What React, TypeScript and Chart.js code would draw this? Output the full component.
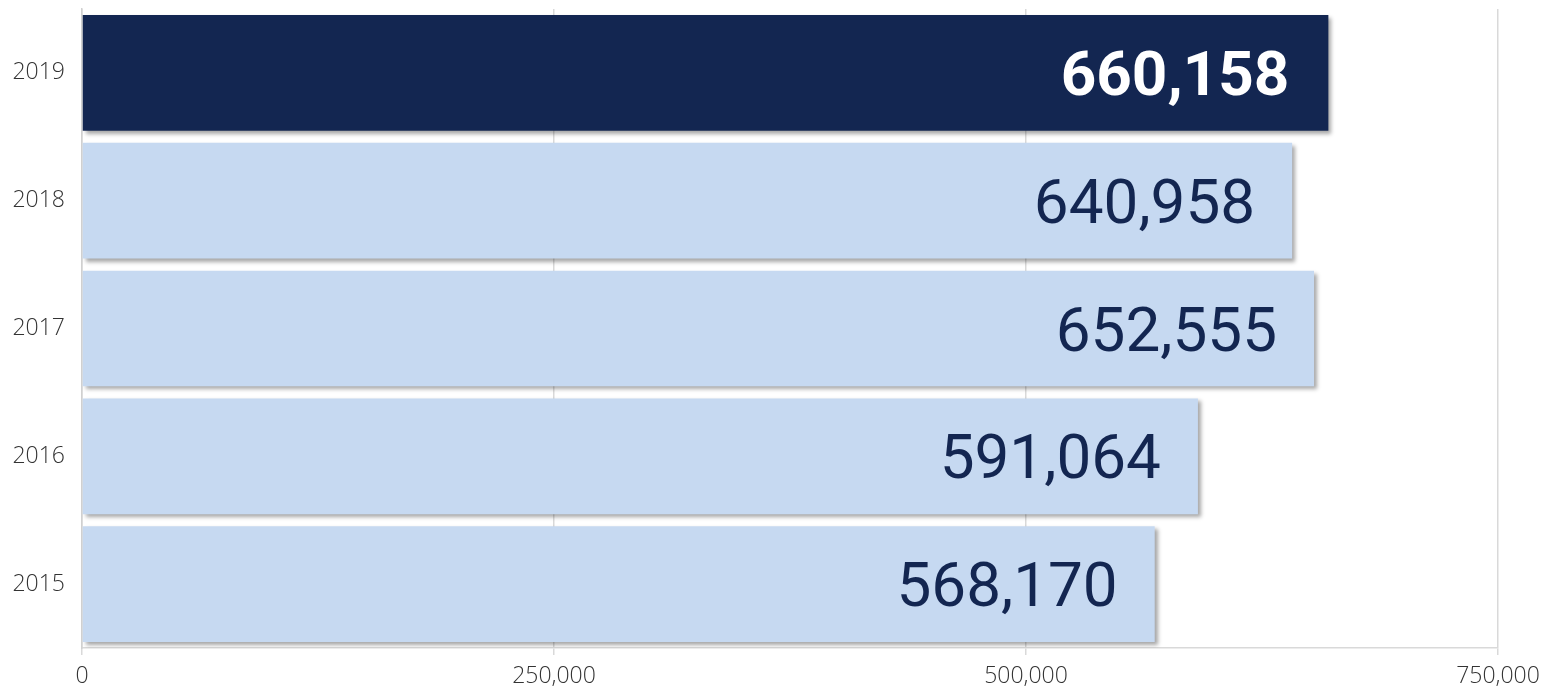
import React, { useEffect, useRef } from "react";
import { Chart, registerables } from "chart.js";

Chart.register(...registerables);

const categories = ["2019", "2018", "2017", "2016", "2015"];
const values = [660158, 640958, 652555, 591064, 568170];
const barColors = ["#132651", "#c6d9f1", "#c6d9f1", "#c6d9f1", "#c6d9f1"];
const labelColors = ["#ffffff", "#132651", "#132651", "#132651", "#132651"];
const labelWeights = ["bold", "normal", "normal", "normal", "normal"];
const xTicks = [0, 250000, 500000, 750000];

const shadowPlugin = {
  id: "barShadow",
  beforeDatasetsDraw(chart: any) {
    const ctx = chart.ctx;
    ctx.save();
    ctx.shadowColor = "rgba(0,0,0,0.35)";
    ctx.shadowBlur = 4;
    ctx.shadowOffsetX = 3;
    ctx.shadowOffsetY = 3;
  },
  afterDatasetsDraw(chart: any) {
    const ctx = chart.ctx;
    ctx.restore();
    const meta = chart.getDatasetMeta(0);
    meta.data.forEach((bar: any, i: number) => {
      ctx.save();
      ctx.font = `${labelWeights[i]} 62px Roboto`;
      ctx.fillStyle = labelColors[i];
      ctx.textAlign = "right";
      ctx.textBaseline = "alphabetic";
      const off = labelWeights[i] === "bold" ? 39 : 37;
      ctx.fillText(values[i].toLocaleString("en-US"), bar.x - off, bar.y + 22);
      ctx.restore();
    });
  },
};

export default function App() {
  const ref = useRef<HTMLCanvasElement>(null);
  useEffect(() => {
    if (!ref.current) return;
    const chart = new Chart(ref.current, {
      type: "bar",
      data: {
        labels: categories,
        datasets: [
          {
            data: values,
            backgroundColor: barColors,
            borderWidth: 0,
            barPercentage: 0.905,
            categoryPercentage: 1,
          },
        ],
      },
      options: {
        indexAxis: "y",
        animation: false,
        responsive: false,
        maintainAspectRatio: false,
        layout: { padding: { top: 9, right: 61, left: 0, bottom: 0 } },
        plugins: { legend: { display: false }, tooltip: { enabled: false } },
        scales: {
          x: {
            min: 0,
            max: 750000,
            afterBuildTicks(scale: any) {
              scale.ticks = xTicks.map((v) => ({ value: v }));
            },
            afterFit(scale: any) {
              scale.height = 39;
              scale.paddingLeft = 0;
              scale.paddingRight = 0;
            },
            grid: {
              color: "#d9d9d9",
              lineWidth: 1.5,
              drawTicks: true,
              tickLength: 7,
            },
            border: { display: true, color: "#d9d9d9", width: 1.5 },
            ticks: {
              padding: 8,
              color: "#333333",
              font: { family: "'Open Sans'", size: 23, weight: 300 },
              callback: (v: any) => Number(v).toLocaleString("en-US"),
              maxRotation: 0,
            },
          },
          y: {
            afterFit(scale: any) {
              scale.width = 82;
              scale.paddingTop = 0;
              scale.paddingBottom = 0;
            },
            grid: { display: false, drawTicks: false },
            border: { display: true, color: "#d0d0d0", width: 1.5 },
            ticks: {
              padding: 17,
              color: "#333333",
              font: { family: "'Open Sans'", size: 23, weight: 300 },
            },
          },
        },
      },
      plugins: [shadowPlugin],
    });
    return () => chart.destroy();
  }, []);
  return (
    <div style={{ position: "fixed", left: 0, top: 0, width: 1559, height: 687, background: "#fff" }}>
      <canvas ref={ref} width={1559} height={687} style={{ width: 1559, height: 687 }} />
    </div>
  );
}
